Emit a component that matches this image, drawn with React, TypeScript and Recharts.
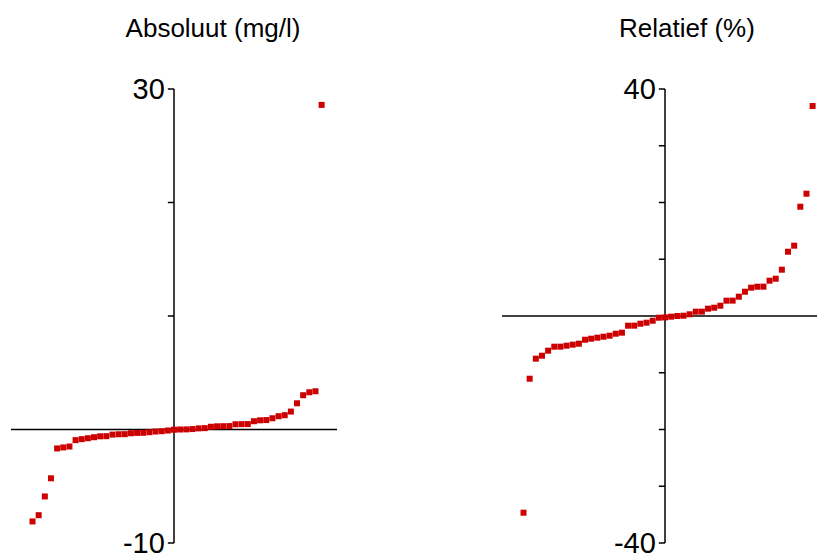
import React from "react";
import { ScatterChart, Scatter, XAxis, YAxis, ReferenceLine } from "recharts";

// sorted differences per sample, lowest first (rank 0 .. 47)
const absoluteDiffs = [
    -8.1, -7.55, -5.9, -4.3, -1.67, -1.58, -1.5, -0.94, -0.85, -0.77, -0.68, -0.6,
    -0.59, -0.45, -0.42, -0.41, -0.33, -0.3, -0.29, -0.24, -0.18, -0.15, -0.09, -0.02,
    0, 0.01, 0.04, 0.1, 0.12, 0.24, 0.28, 0.29, 0.3, 0.46, 0.47, 0.48,
    0.73, 0.81, 0.83, 0.99, 1.17, 1.26, 1.58, 2.31, 3.02, 3.28, 3.37, 28.6,
];
const relativeDiffs = [
    -34.66, -11.05, -7.52, -7.0, -6.11, -5.41, -5.4, -5.23, -5.05, -4.88, -4.18, -4.0,
    -3.82, -3.65, -3.47, -3.12, -2.94, -1.71, -1.7, -1.36, -1.18, -0.83, -0.3, -0.25,
    -0.12, 0, 0.05, 0.3, 0.76, 0.77, 1.29, 1.46, 1.81, 2.7, 2.71, 3.4,
    4.28, 4.99, 5.16, 5.17, 6.22, 6.57, 8.16, 11.33, 12.39, 19.26, 21.55, 37.0,
];
const absoluteTicks = [-10, 0, 10, 20, 30];
const relativeTicks = [-40, -30, -20, -10, 0, 10, 20, 30, 40];

const titles = ["Absoluut (mg/l)", "Relatief (%)"];

const RED = "#cc0000";
const FONT = "'Liberation Sans', Arial, sans-serif";
const CENTER_RANK = 23;
const HALF_SPAN = 26.5;

const toPoints = (values: number[]) =>
    values.map((v, i) => ({ rank: i - CENTER_RANK, value: v }));

const Square = (props: any) => {
    const { cx, cy } = props;
    return <rect x={cx - 3} y={cy - 3} width={6} height={6} fill={RED} />;
};

interface PanelProps {
    left: number,
    title: string,
    titleCenter: number,
    values: number[],
    ticks: number[],
    margin: { top: number, right: number, bottom: number, left: number },
}

const Panel = ({ left, title, titleCenter, values, ticks, margin }: PanelProps) => {
    const lo = ticks[0];
    const hi = ticks[ticks.length - 1];
    return (
        <>
            <div style={{
                position: "absolute", left: titleCenter - 150, top: 12, width: 300,
                textAlign: "center", fontFamily: FONT, fontSize: 26, lineHeight: "32px", color: "#000",
            }}>{title}</div>
            <div style={{ position: "absolute", left, top: 0 }}>
                <ScatterChart width={350} height={559} margin={margin}>
                    <XAxis type="number" dataKey="rank" domain={[-HALF_SPAN, HALF_SPAN]} hide />
                    <YAxis type="number" dataKey="value" domain={[lo, hi]} hide allowDataOverflow />
                    <Scatter data={toPoints(values)} shape={Square} isAnimationActive={false} />
                    <ReferenceLine y={0} stroke="#000" strokeWidth={1.5} />
                    <ReferenceLine x={0} stroke="#000" strokeWidth={1.5} />
                    {ticks.map((t) => (
                        <ReferenceLine
                            key={t}
                            segment={[{ x: -1, y: t }, { x: 0, y: t }]}
                            stroke="#000"
                            strokeWidth={1.5}
                            label={t === lo || t === hi ? {
                                value: String(t), position: "left", offset: 3,
                                fill: "#000", fontSize: 29, fontFamily: FONT,
                            } : undefined}
                        />
                    ))}
                </ScatterChart>
            </div>
        </>
    );
};

export default function App() {
    return (
        <div style={{
            position: "absolute", left: 0, top: 0, width: 817, height: 559,
            overflow: "hidden", background: "#fff",
        }}>
            <Panel left={0} title={titles[0]} titleCenter={213} values={absoluteDiffs}
                ticks={absoluteTicks} margin={{ top: 89, right: 13, bottom: 16, left: 11 }} />
            <Panel left={490} title={titles[1]} titleCenter={687} values={relativeDiffs}
                ticks={relativeTicks} margin={{ top: 89, right: 12, bottom: 16, left: 12 }} />
        </div>
    );
}
